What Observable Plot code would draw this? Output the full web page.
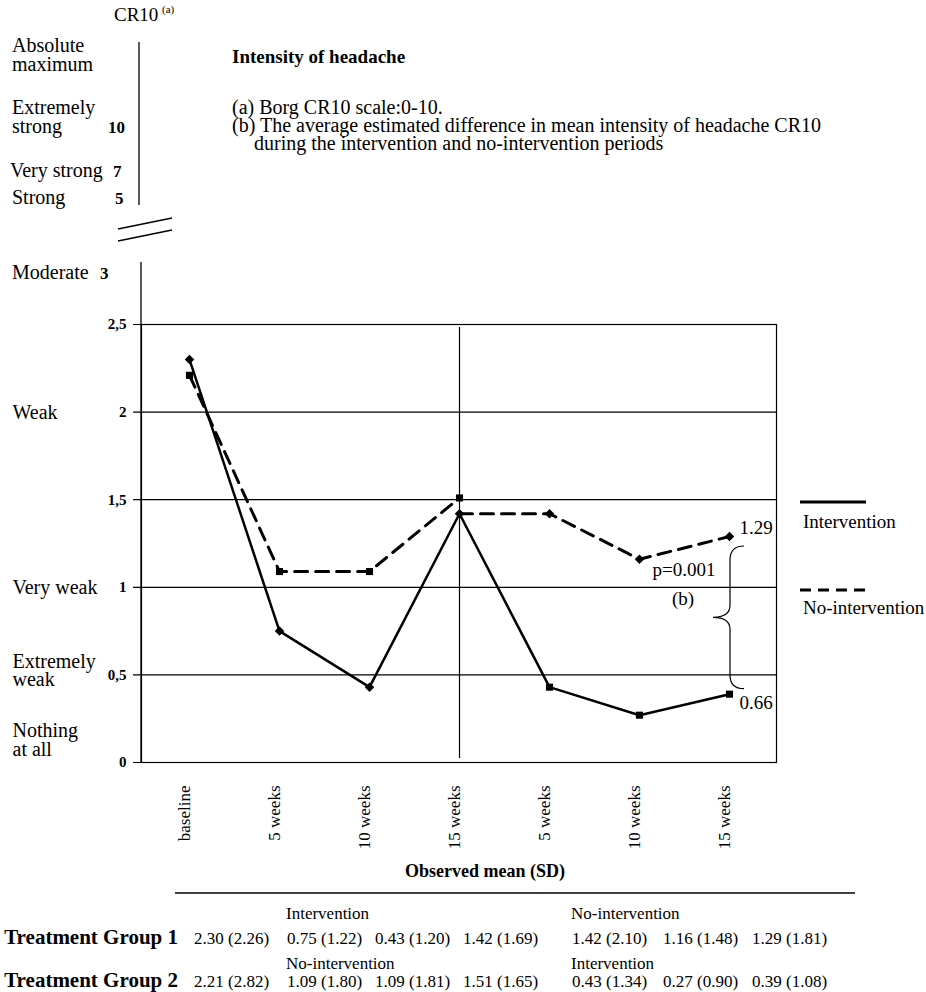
<!DOCTYPE html>
<html><head><meta charset="utf-8">
<script src="https://cdn.jsdelivr.net/npm/d3@7"></script>
<script src="https://cdn.jsdelivr.net/npm/@observablehq/plot@0.6"></script>
<style>
html,body{margin:0;padding:0;background:#fff;}
#chart{width:926px;height:992px;overflow:hidden;position:relative;}
</style></head><body><div id="chart"></div>
<script>
// ---------- data ----------
const labels = ["baseline","5 weeks","10 weeks","15 weeks","5 weeks","10 weeks","15 weeks"];
const group1Mean = [2.30,0.75,0.43,1.42,1.42,1.16,1.29];
const group1SD   = [2.26,1.22,1.20,1.69,2.10,1.48,1.81];
const group2Mean = [2.21,1.09,1.09,1.51,0.43,0.27,0.39];
const group2SD   = [2.82,1.80,1.81,1.65,1.34,0.90,1.08];
const group1Periods = ["Intervention","No-intervention"];
const group2Periods = ["No-intervention","Intervention"];
const groupNames = ["Treatment Group 1","Treatment Group 2"];
const yTicks = [0,0.5,1,1.5,2,2.5];
const cr10Upper = [["Absolute","maximum"],["Extremely","strong"],["Very strong"],["Strong"],["Moderate"]];
const cr10UpperValues = ["","10","7","5","3"];
const cr10Lower = ["Weak","Very weak","Extremely\nweak","Nothing\nat all"];
const cr10LowerAt = [2,1,0.5,0];
const annUpper = "1.29", annLower = "0.66", annP = "p=0.001", annB = "(b)";
const title = "Intensity of headache";
const notes = ["(a) Borg CR10 scale:0-10.",
  "(b) The average estimated difference in mean intensity of headache CR10",
  "during the intervention and no-intervention periods"];
const legendItems = ["Intervention","No-intervention"];
const xTitle = "Observed mean (SD)";

(function () {
// ---------- derived tables ----------
const idx = d3.range(labels.length);
const g1 = idx.map(i => ({i, v: group1Mean[i]}));
const g2 = idx.map(i => ({i, v: group2Mean[i]}));
const solid = [...g1.slice(0,4), ...g2.slice(4)];
const dashed = [...g2.slice(0,4).map(d => ({...d, seg:"a"})), ...g1.slice(3).map(d => ({...d, seg:"b"}))];
const fmtY = d => String(d).replace(".", ",");

const FONT = "'Liberation Serif','Times New Roman',serif";

const chart = Plot.plot({
  width: 926, height: 992,
  marginTop: 324, marginBottom: 230, marginLeft: 141, marginRight: 150,
  style: {fontFamily: FONT, fontSize: "17px", background: "white", color: "black", overflow: "visible"},
  x: {type: "point", domain: idx, padding: 0.5, axis: null},
  y: {domain: [0, 2.5], axis: null},
  marks: [
    Plot.ruleY(yTicks, {stroke: "black", strokeWidth: 1.2, insetLeft: -8}),
    Plot.frame({stroke: "black", strokeWidth: 1.2}),
    Plot.ruleX([3], {stroke: "black", strokeWidth: 1.2, insetTop: 3, insetBottom: 4}),
    Plot.text(yTicks, {y: d => d, text: d => fmtY(d), frameAnchor: "left", textAnchor: "end", dx: -15, fontWeight: "bold", fontSize: 15}),
    Plot.text(idx, {x: d => d, text: d => labels[d], frameAnchor: "bottom", rotate: -90, textAnchor: "end", dy: 23, fontSize: 17}),
    Plot.text(cr10Lower.slice(0,2).map((t,k) => ({t, at: cr10LowerAt[k]})), {y: "at", text: "t", frameAnchor: "left", textAnchor: "start", dx: -129, fontSize: 20}),
    Plot.text([{t: cr10Lower[2], at: cr10LowerAt[2]}], {y: "at", text: "t", frameAnchor: "left", textAnchor: "start", dx: -129, dy: -4, fontSize: 20, lineHeight: 0.92}),
    Plot.text([{t: cr10Lower[3], at: cr10LowerAt[3]}], {y: "at", text: "t", frameAnchor: "left", textAnchor: "start", dx: -129, dy: -22, fontSize: 20, lineHeight: 0.92}),
    Plot.line(solid, {x: "i", y: "v", stroke: "black", strokeWidth: 2.5}),
    Plot.line(dashed, {x: "i", y: "v", z: "seg", stroke: "black", strokeWidth: 3, strokeDasharray: "13,8"}),
    Plot.dot(g1, {x: "i", y: "v", symbol: "diamond2", r: 4.3, fill: "black", stroke: "none"}),
    Plot.dot(g2, {x: "i", y: "v", symbol: "square", r: 4, fill: "black", stroke: "none"}),
    Plot.text([g1[6]], {x: "i", y: "v", text: () => annUpper, textAnchor: "start", dx: 10, dy: -9, fontSize: 19}),
    Plot.text([g2[6]], {x: "i", y: "v", text: () => annLower, textAnchor: "start", dx: 10, dy: 9, fontSize: 19}),
    Plot.text([g1[5]], {x: "i", y: "v", text: () => annP, textAnchor: "start", dx: 13, dy: 11, fontSize: 19})
  ]
});
document.getElementById("chart").appendChild(chart);

// ---------- decorations ----------
const svg = d3.select(chart);
const xs = chart.scale("x"), ys = chart.scale("y");
const g = svg.append("g").attr("font-family", FONT).attr("fill", "black");
const txt = (x, y, s, o = {}) => {
  const t = g.append("text").attr("x", x).attr("y", y).text(s)
    .attr("font-size", o.size || 20).attr("text-anchor", o.anchor || "start");
  if (o.bold) t.attr("font-weight", "bold");
  return t;
};
const line = (x1, y1, x2, y2, w = 1.3, dash = null) => {
  const l = g.append("line").attr("x1", x1).attr("y1", y1).attr("x2", x2).attr("y2", y2)
    .attr("stroke", "black").attr("stroke-width", w);
  if (dash) l.attr("stroke-dasharray", dash);
};

// Upper CR10 scale
txt(114, 21, "CR10", {size: 19});
txt(162, 13, "(a)", {size: 11});
line(139, 42, 139, 205, 1.3);
const upperY = [[52, 71], [114, 133], [177], [204], [279]];
const upperNumX = [0, 108, 113, 115, 100];
cr10Upper.forEach((lines, k) => {
  lines.forEach((s, j) => txt(k === 2 ? 10 : 12, upperY[k][j], s));
  if (cr10UpperValues[k]) txt(upperNumX[k], upperY[k][upperY[k].length - 1], cr10UpperValues[k], {size: 17, bold: true});
});
line(118, 229, 172, 218, 1.4);
line(118, 241, 172, 230, 1.4);
line(141, 262, 141, 762, 1.3);

// title and notes
txt(232, 63, title, {size: 19, bold: true});
txt(232, 114, notes[0], {size: 20});
txt(232, 132, notes[1], {size: 20});
txt(254, 150, notes[2], {size: 20});

// brace
const bx = xs.apply(6), bTop = ys.apply(group1Mean[6]) + 10, bBot = ys.apply(group2Mean[6]) - 5, bMid = (bTop + bBot) / 2;
const p = d3.path();
p.moveTo(bx + 15, bTop);
p.quadraticCurveTo(bx + 1, bTop, bx + 1, bTop + 14);
p.lineTo(bx + 1, bMid - 12);
p.quadraticCurveTo(bx + 1, bMid, bx - 16, bMid);
p.quadraticCurveTo(bx + 1, bMid, bx + 1, bMid + 12);
p.lineTo(bx + 1, bBot - 14);
p.quadraticCurveTo(bx + 1, bBot, bx + 15, bBot);
g.append("path").attr("d", p.toString()).attr("fill", "none").attr("stroke", "black").attr("stroke-width", 1.2);
txt(bx - 46, bMid - 12, annB, {size: 19, anchor: "middle"});

// legend
line(800, 502, 866, 502, 3);
txt(803, 528, legendItems[0], {size: 19});
line(800, 590, 866, 590, 3, "11,7");
txt(803, 614, legendItems[1], {size: 19});

// x title & table
txt(485, 877, xTitle, {size: 18, bold: true, anchor: "middle"});
line(175, 893, 855, 893, 1.5);
const colX = [194, 287, 375, 463, 572, 663, 752];
const rowsMean = [group1Mean, group2Mean], rowsSD = [group1SD, group2SD], rowsPer = [group1Periods, group2Periods];
const rowY = [[919, 944], [969, 987]];
[0, 1].forEach(r => {
  txt(286, rowY[r][0], rowsPer[r][0], {size: 17});
  txt(571, rowY[r][0], rowsPer[r][1], {size: 17});
  txt(178, rowY[r][1], groupNames[r], {size: 21, bold: true, anchor: "end"});
  idx.forEach(i => txt(colX[i], rowY[r][1], `${rowsMean[r][i].toFixed(2)} (${rowsSD[r][i].toFixed(2)})`, {size: 17}));
});
})();
</script></body></html>
